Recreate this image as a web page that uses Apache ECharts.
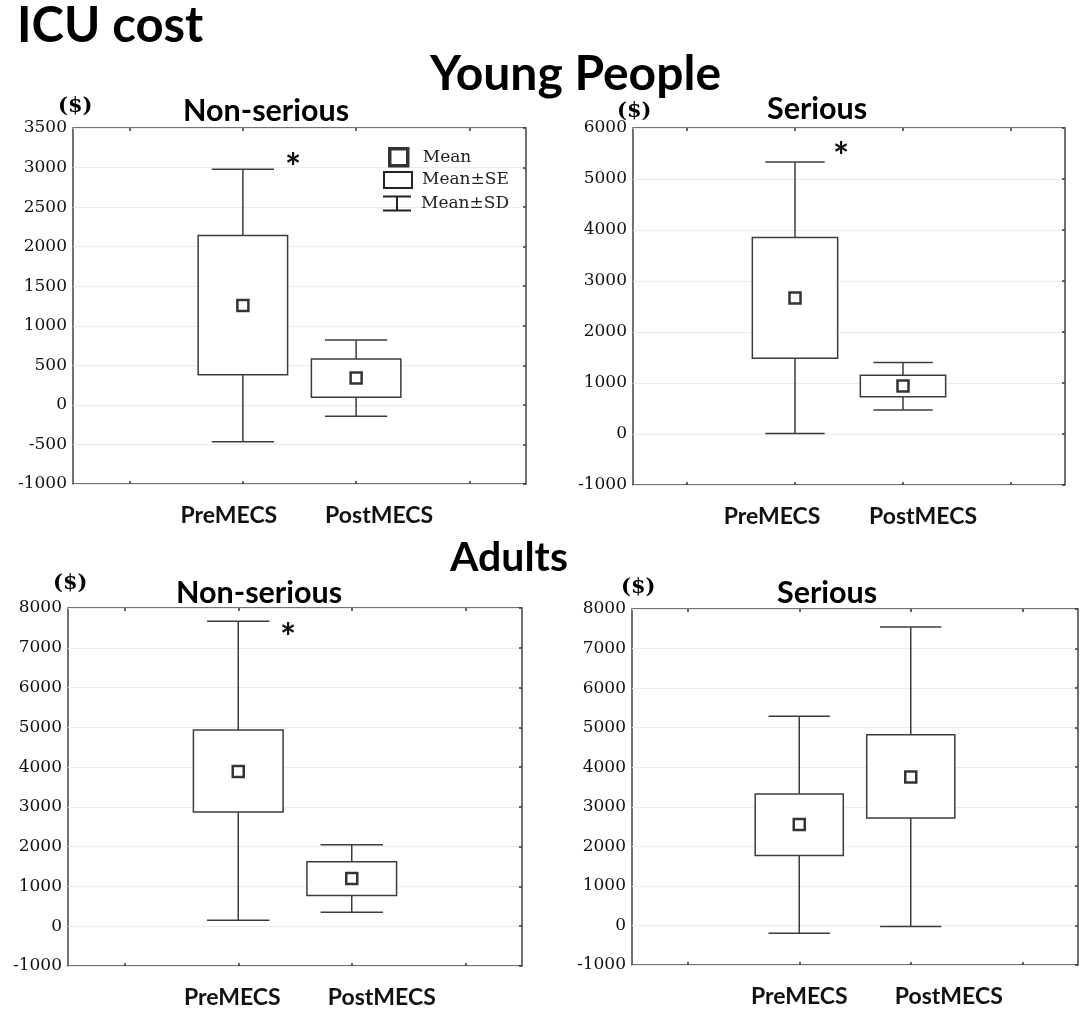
<!DOCTYPE html>
<html>
<head>
<meta charset="utf-8">
<script src="https://cdn.jsdelivr.net/npm/echarts/dist/echarts.min.js"></script>
<style>
  html, body { margin: 0; padding: 0; background: #fff; }
  #main { width: 1084px; height: 1010px; }
</style>
</head>
<body>
<div id="main"></div>
<script>
// categories (outer two are empty slots, like the original plot)
const categories = ['', 'PreMECS', 'PostMECS', ''];
const groupIdx = [1, 2];

// Young people, non-serious
const youngNonMean = [1255, 340];
const youngNonSe = [[380, 2140], [95, 580]];
const youngNonSd = [[-465, 2980], [-145, 820]];
// Young people, serious
const youngSerMean = [2665, 940];
const youngSerSe = [[1485, 3855], [730, 1150]];
const youngSerSd = [[10, 5335], [470, 1400]];
// Adults, non-serious
const adultNonMean = [3890, 1200];
const adultNonSe = [[2870, 4935], [775, 1620]];
const adultNonSd = [[150, 7665], [350, 2050]];
// Adults, serious
const adultSerMean = [2550, 3750];
const adultSerSe = [[1770, 3320], [2715, 4820]];
const adultSerSd = [[-200, 5290], [-25, 7545]];

// y axis ranges
const youngNonTicks = { min: -1000, max: 3500, step: 500 };
const youngSerTicks = { min: -1000, max: 6000, step: 1000 };
const adultTicks = { min: -1000, max: 8000, step: 1000 };

const LINE = '#3c3c3c';
const SERIF = 'DejaVu Serif';
const SANS = 'Lato';

const chart = echarts.init(document.getElementById('main'));

function sdItem(params, api) {
  const x = api.value(0);
  const lo = api.coord([x, api.value(1)]);
  const hi = api.coord([x, api.value(2)]);
  const half = api.size([1, 0])[0] * 0.275;
  const st = { stroke: LINE, lineWidth: 1.5 };
  return {
    type: 'group',
    children: [
      { type: 'line', shape: { x1: lo[0], y1: lo[1], x2: hi[0], y2: hi[1] }, style: st },
      { type: 'line', shape: { x1: lo[0] - half, y1: lo[1], x2: lo[0] + half, y2: lo[1] }, style: st },
      { type: 'line', shape: { x1: hi[0] - half, y1: hi[1], x2: hi[0] + half, y2: hi[1] }, style: st }
    ]
  };
}

function seItem(params, api) {
  const x = api.value(0);
  const lo = api.coord([x, api.value(1)]);
  const hi = api.coord([x, api.value(2)]);
  const w = api.size([1, 0])[0] * 0.79;
  return {
    type: 'rect',
    shape: { x: lo[0] - w / 2, y: hi[1], width: w, height: lo[1] - hi[1] },
    style: { fill: '#fff', stroke: LINE, lineWidth: 1.5 }
  };
}

const grids = [], xAxes = [], yAxes = [], series = [];

function panel(rect, ticks, mean, se, sd, padPre, padPost) {
  const i = grids.length;
  grids.push(Object.assign({ show: true, borderColor: '#444', borderWidth: 1.5, backgroundColor: '#fff' }, rect));
  const labelData = categories.map(function (c, k) {
    if (k === 1) return { value: c, textStyle: { padding: padPre } };
    if (k === 2) return { value: c, textStyle: { padding: padPost } };
    return c;
  });
  const tick = { show: true, inside: true, length: 3, alignWithLabel: true, interval: 0, lineStyle: { color: '#333', width: 1.5 } };
  xAxes.push({
    gridIndex: i, type: 'category', data: labelData, boundaryGap: true, position: 'bottom',
    axisLine: { show: false, onZero: false }, axisTick: tick, splitLine: { show: false },
    axisLabel: { interval: 0, margin: 20, fontFamily: SANS, fontWeight: 'bold', fontSize: 23, color: '#111' }
  });
  xAxes.push({
    gridIndex: i, type: 'category', data: categories, boundaryGap: true, position: 'top',
    axisLine: { show: false, onZero: false }, axisTick: tick, axisLabel: { show: false }
  });
  const ytick = { show: true, inside: true, length: 3, lineStyle: { color: '#333', width: 1.5 } };
  yAxes.push({
    gridIndex: i, type: 'value', min: ticks.min, max: ticks.max, interval: ticks.step, position: 'left',
    axisLine: { show: false }, axisTick: { show: false },
    splitLine: { show: true, lineStyle: { color: '#ececec', width: 1 } },
    axisLabel: { margin: 6, fontFamily: SERIF, fontSize: 17, color: '#111', formatter: function (v) { return String(v); } }
  });
  yAxes.push({
    gridIndex: i, type: 'value', min: ticks.min, max: ticks.max, interval: ticks.step, position: 'right',
    axisLine: { show: false }, axisTick: ytick, axisLabel: { show: false }, splitLine: { show: false }
  });
  const xi = i * 2, yi = i * 2;
  series.push({
    name: 'Mean±SD', type: 'custom', xAxisIndex: xi, yAxisIndex: yi, z: 2,
    renderItem: sdItem, encode: { x: 0, y: [1, 2] },
    data: groupIdx.map(function (g, k) { return [g, sd[k][0], sd[k][1]]; })
  });
  series.push({
    name: 'Mean±SE', type: 'custom', xAxisIndex: xi, yAxisIndex: yi, z: 3,
    renderItem: seItem, encode: { x: 0, y: [1, 2] },
    data: groupIdx.map(function (g, k) { return [g, se[k][0], se[k][1]]; })
  });
  series.push({
    name: 'Mean', type: 'scatter', xAxisIndex: xi, yAxisIndex: yi, z: 4,
    symbol: 'rect', symbolSize: 11,
    itemStyle: { color: '#fff', borderColor: '#000', borderWidth: 2.5 },
    data: groupIdx.map(function (g, k) { return [g, mean[k]]; })
  });
}

panel({ left: 73, top: 128, width: 453, height: 356 }, youngNonTicks, youngNonMean, youngNonSe, youngNonSd, [0, 28, 0, 0], [0, 0, 0, 46]);
panel({ left: 633, top: 128, width: 432, height: 357 }, youngSerTicks, youngSerMean, youngSerSe, youngSerSd, [0, 46, 0, 0], [0, 0, 0, 40]);
panel({ left: 68, top: 608, width: 454, height: 358 }, adultTicks, adultNonMean, adultNonSe, adultNonSd, [0, 12, 0, 0], [0, 0, 0, 60]);
panel({ left: 632, top: 609, width: 446, height: 356 }, adultTicks, adultSerMean, adultSerSe, adultSerSd, [0, 0, 0, 0], [0, 0, 0, 76]);

function head(text, left, top, size, family, weight) {
  return { text: text, left: left, top: top, padding: 0,
    textStyle: { fontFamily: family || SANS, fontWeight: weight || 'bold', fontSize: size, color: '#000' } };
}

const legendText = { fontFamily: SERIF, fontSize: 17, color: '#222' };

chart.setOption({
  animation: false,
  backgroundColor: '#fff',
  title: [
    head('ICU cost', 17, 2, 49),
    head('Young People', 430, 51, 48),
    head('Adults', 450, 537, 41),
    head('Non-serious', 183, 96, 30.5),
    head('Serious', 767, 94, 30.5),
    head('Non-serious', 176, 578, 30.5),
    head('Serious', 777, 578, 30.5),
    head('($)', 58, 96, 21, SERIF),
    head('($)', 617, 101, 21, SERIF),
    head('($)', 53, 573, 21, SERIF),
    head('($)', 621, 577, 21, SERIF)
  ],
  legend: [
    { data: [{ name: 'Mean', icon: 'rect', itemStyle: { color: '#fff', borderColor: '#000', borderWidth: 3.5 } }],
      left: 388, top: 147, padding: 0, itemWidth: 18, itemHeight: 17, selectedMode: false,
      textStyle: Object.assign({ padding: [0, 0, 0, 10] }, legendText) },
    { data: [{ name: 'Mean±SE', icon: 'rect', itemStyle: { color: '#fff', borderColor: '#222', borderWidth: 2 } }],
      left: 383, top: 171, padding: 0, itemWidth: 28, itemHeight: 16, selectedMode: false,
      textStyle: Object.assign({ padding: [0, 0, 0, 5] }, legendText) },
    { data: [{ name: 'Mean±SD', icon: 'path://M0,0H28V2H15V14H28V16H0V14H13V2H0Z', itemStyle: { color: '#222', borderWidth: 0 } }],
      left: 383, top: 195, padding: 0, itemWidth: 28, itemHeight: 16, selectedMode: false,
      textStyle: Object.assign({ padding: [0, 0, 0, 5] }, legendText) }
  ],
  graphic: [
    { type: 'text', left: 285, top: 150, style: { text: '*', font: 'bold 38px Lato', fill: '#111' } },
    { type: 'text', left: 833, top: 139, style: { text: '*', font: 'bold 38px Lato', fill: '#111' } },
    { type: 'text', left: 280, top: 620, style: { text: '*', font: 'bold 38px Lato', fill: '#111' } }
  ],
  grid: grids,
  xAxis: xAxes,
  yAxis: yAxes,
  series: series
});
</script>
</body>
</html>
